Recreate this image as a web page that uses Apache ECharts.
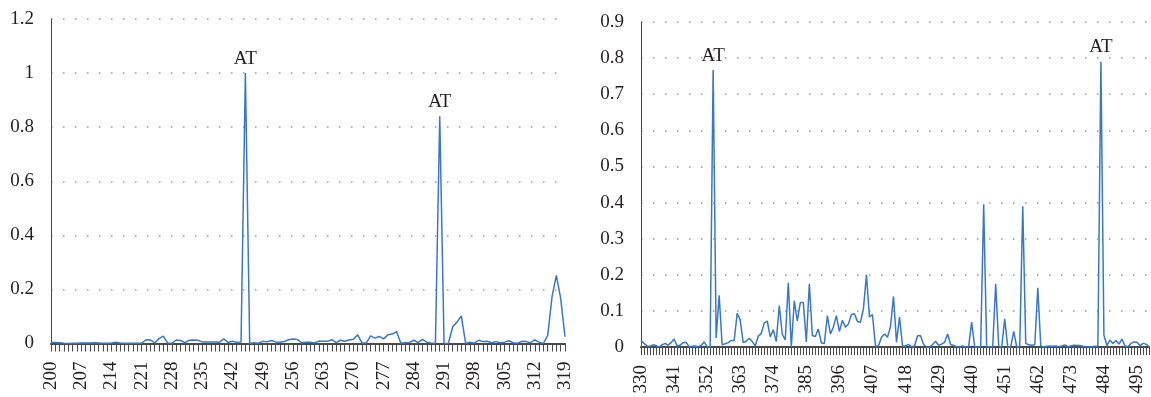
<!DOCTYPE html>
<html>
<head>
<meta charset="utf-8">
<script src="https://cdn.jsdelivr.net/npm/echarts@6/dist/echarts.min.js"></script>
<style>
html,body{margin:0;padding:0;background:#fff;}
#c{width:1151px;height:397px;}
</style>
</head>
<body>
<div id="c"></div>
<script>
// ---- data ----
const leftStart = 200, leftEnd = 319;
const rightStart = 330, rightEnd = 499;

const leftValues = [
  0.004,0.004,0.003,0.001,0,0.001,0.001,0.002,0.002,0.002,
  0.003,0.002,0.001,0.001,0.002,0.005,0.002,0.001,0.001,0.001,
  0.001,0.001,0.014,0.013,0.002,0.018,0.027,0.002,0.001,0.013,
  0.011,0.003,0.012,0.013,0.012,0.006,0.006,0.006,0.006,0.005,
  0.017,0.004,0.008,0.005,0.006,1.0,0,0.003,0.001,0.008,
  0.006,0.011,0.006,0.005,0.007,0.014,0.017,0.015,0.003,0.005,
  0.005,0.002,0.009,0.008,0.008,0.014,0.003,0.012,0.008,0.013,
  0.016,0.032,0.002,0.002,0.028,0.02,0.026,0.017,0.032,0.035,
  0.044,0.001,0.003,0.004,0.012,0.003,0.015,0.005,0.002,0.001,
  0.84,0,0,0.062,0.079,0.102,0,0.005,0.001,0.012,
  0.007,0.008,0.003,0.007,0.003,0.005,0.01,0.003,0.001,0.008,
  0.007,0.003,0.013,0.005,0,0.03,0.173,0.252,0.167,0.025
];

const rightValues = [
  0.018,0.01,0.003,0.002,0.006,0.004,0,0.006,0.01,0.005,
  0.012,0.022,0.003,0.005,0.012,0.013,0.001,0.002,0.003,0.001,
  0.004,0.014,0.001,0.001,0.767,0.025,0.143,0.006,0.009,0.012,
  0.018,0.018,0.093,0.075,0.012,0.016,0.024,0.015,0.003,0.03,
  0.037,0.066,0.072,0.028,0.048,0.015,0.115,0.035,0.02,0.178,
  0,0.128,0.072,0.123,0.123,0.014,0.175,0.032,0.029,0.05,
  0.011,0.01,0.087,0.036,0.055,0.087,0.043,0.074,0.055,0.064,
  0.09,0.092,0.071,0.068,0.106,0.2,0.083,0.09,0.003,0.003,
  0.027,0.036,0.027,0.056,0.14,0.013,0.083,0.003,0.003,0.007,
  0.001,0.003,0.031,0.031,0.007,0,0,0.007,0.016,0.005,
  0.008,0.013,0.036,0.007,0.004,0.001,0,0.003,0,0.001,
  0.069,0.001,0,0,0.395,0,0,0,0.175,0.002,
  0,0.078,0,0,0.043,0,0,0.39,0.01,0.006,
  0.005,0.006,0.164,0.003,0,0.002,0.003,0.002,0.003,0.001,
  0.003,0.006,0.001,0.003,0.005,0.004,0.004,0.002,0.001,0,
  0.001,0.002,0.002,0.79,0.033,0.004,0.019,0.01,0.018,0.008,
  0.022,0.003,0.001,0.01,0.014,0.013,0.004,0.01,0.008,0.001
];

const leftPeaks = ['245', '290'];
const rightPeaks = ['354', '483'];
const peakLabel = 'AT';

const leftYMax = 1.2, leftYStep = 0.2;
const rightYMax = 0.9, rightYStep = 0.1;

// ---- build ----
function cats(a, b) { const r = []; for (let v = a; v <= b; v++) r.push(String(v)); return r; }
const leftCats = cats(leftStart, leftEnd);
const rightCats = cats(rightStart, rightEnd);

const FONT = "'Liberation Serif', 'Times New Roman', serif";
const TXT = '#231f20';
const LINE = '#3a78c2';

function xAxis(idx, data, interval) {
  return {
    type: 'category', gridIndex: idx, data: data, boundaryGap: false,
    axisLine: { show: true, lineStyle: { color: '#4a4a4a', width: 2 } },
    axisTick: { show: true, interval: 0, length: 8, lineStyle: { color: '#4a4a4a', width: 1 } },
    axisLabel: { interval: interval, rotate: 90, margin: 18, fontFamily: FONT, fontSize: 19, color: TXT },
    splitLine: { show: false }
  };
}
function yAxis(idx, max, step) {
  return {
    type: 'value', gridIndex: idx, min: 0, max: max, interval: step,
    axisLine: { show: true, lineStyle: { color: '#4a4a4a', width: 1 } },
    axisTick: { show: false },
    axisLabel: { margin: 17, fontFamily: FONT, fontSize: 19, color: TXT },
    splitLine: { show: true, lineStyle: { color: '#9a9a9a', width: 1.5, type: [1.5, 10.5] } }
  };
}
function series(idx, values, cat, peaks) {
  return {
    type: 'line', xAxisIndex: idx, yAxisIndex: idx, data: values,
    showSymbol: false, symbol: 'none', animation: false,
    lineStyle: { color: LINE, width: 1.5 },
    markPoint: {
      symbol: 'circle', symbolSize: 0, animation: false,
      label: { show: true, position: 'top', distance: 5, formatter: peakLabel,
               fontFamily: FONT, fontSize: 19, color: TXT },
      data: peaks.map(p => ({ coord: [p, values[cat.indexOf(p)]] }))
    }
  };
}

const chart = echarts.init(document.getElementById('c'), null, { renderer: 'canvas' });
chart.setOption({
  animation: false,
  backgroundColor: '#fff',
  grid: [
    { left: 51, top: 19, width: 514, height: 324.5 },
    { left: 641, top: 22, width: 508, height: 325 }
  ],
  xAxis: [xAxis(0, leftCats, 6), xAxis(1, rightCats, 10)],
  yAxis: [yAxis(0, leftYMax, leftYStep), yAxis(1, rightYMax, rightYStep)],
  series: [series(0, leftValues, leftCats, leftPeaks), series(1, rightValues, rightCats, rightPeaks)]
});
</script>
</body>
</html>
